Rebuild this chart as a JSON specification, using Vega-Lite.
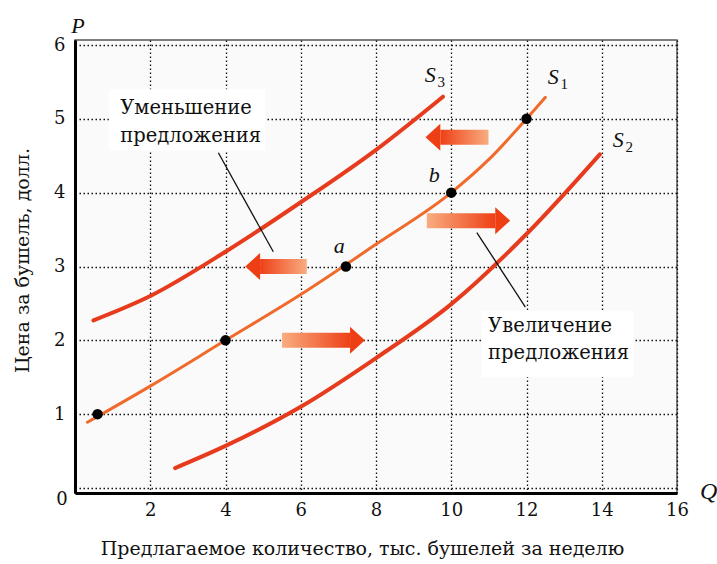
{
  "$schema": "https://vega.github.io/schema/vega-lite/v6.json",
  "width": 602,
  "height": 453,
  "autosize": {"type": "none"},
  "padding": {"left": 75, "top": 40, "right": 40, "bottom": 71},
  "background": "white",
  "config": {
    "font": "DejaVu Serif",
    "view": {"stroke": "#555", "strokeWidth": 1.5, "fill": "#fafafa"},
    "axis": {
      "labelFont": "DejaVu Serif",
      "titleFont": "DejaVu Serif",
      "labelColor": "#111",
      "titleColor": "#111",
      "labelFontSize": 18,
      "titleFontSize": 19,
      "titleFontWeight": "normal",
      "ticks": false,
      "tickSize": 0,
      "grid": true,
      "domainColor": "#000",
      "domainWidth": 3,
      "gridColor": "#111",
      "gridDash": [1.5, 2.5],
      "gridWidth": 1.3,
      "gridOpacity": 1
    }
  },
  "layer": [
    {
      "data": {"values": [
        {"x1": 0.9, "x2": 5.05, "y1": 4.57, "y2": 5.4},
        {"x1": 10.8, "x2": 14.85, "y1": 1.5, "y2": 2.4}
      ]},
      "mark": {"type": "rect", "fill": "white"},
      "encoding": {
        "x": {"field": "x1", "type": "quantitative", "scale": {"domain": [0, 16], "nice": false},
              "axis": {"grid": true, "values": [0, 2, 4, 6, 8, 10, 12, 14, 16], "format": "d", "labelExpr": "datum.value == 0 ? '' : datum.label", "labelPadding": 8, "title": "Предлагаемое количество, тыс. бушелей за неделю", "titleX": 287, "titleY": 55, "titleBaseline": "middle", "labelFlush": false}},
        "x2": {"field": "x2"},
        "y": {"field": "y1", "type": "quantitative", "scale": {"domain": [0, 6], "nice": false},
              "axis": {"grid": true, "values": [0, 1, 2, 3, 4, 5, 6], "format": "d", "labelExpr": "datum.value == 0 ? '' : datum.label", "labelPadding": 10, "title": "Цена за бушель, долл.", "titleX": -53, "titleY": 220, "titleBaseline": "middle", "labelFlush": false}},
        "y2": {"field": "y2"}
      }
    },
    {
      "data": {"values": [
        {"curve": "S3", "q": 0.49, "p": 2.27},
        {"curve": "S3", "q": 2, "p": 2.6},
        {"curve": "S3", "q": 4, "p": 3.2},
        {"curve": "S3", "q": 6, "p": 3.87},
        {"curve": "S3", "q": 8, "p": 4.58},
        {"curve": "S3", "q": 9.78, "p": 5.3},
        {"curve": "S2", "q": 2.66, "p": 0.27},
        {"curve": "S2", "q": 4, "p": 0.57},
        {"curve": "S2", "q": 6, "p": 1.1},
        {"curve": "S2", "q": 8, "p": 1.76},
        {"curve": "S2", "q": 10, "p": 2.49},
        {"curve": "S2", "q": 12, "p": 3.44},
        {"curve": "S2", "q": 13.95, "p": 4.52}
      ]},
      "mark": {"type": "line", "interpolate": "monotone", "color": "#e63b1c", "strokeWidth": 4, "strokeCap": "round"},
      "encoding": {
        "x": {"field": "q", "type": "quantitative"},
        "y": {"field": "p", "type": "quantitative"},
        "detail": {"field": "curve"}
      }
    },
    {
      "data": {"values": [
        {"q": 0.33, "p": 0.89},
        {"q": 2, "p": 1.38},
        {"q": 4, "p": 2.0},
        {"q": 6, "p": 2.62},
        {"q": 8, "p": 3.3},
        {"q": 10, "p": 4.0},
        {"q": 11, "p": 4.45},
        {"q": 12, "p": 5.0},
        {"q": 12.5, "p": 5.29}
      ]},
      "mark": {"type": "line", "interpolate": "monotone", "color": "#f06a2c", "strokeWidth": 3, "strokeCap": "round"},
      "encoding": {
        "x": {"field": "q", "type": "quantitative"},
        "y": {"field": "p", "type": "quantitative"}
      }
    },
    {
      "data": {"values": [
        {"y": 4.75, "tail": 10.99, "base": 9.71},
        {"y": 3.0, "tail": 6.16, "base": 4.92}
      ]},
      "mark": {"type": "bar", "size": 15, "fill": {"gradient": "linear", "x1": 0, "y1": 0, "x2": 1, "y2": 0, "stops": [{"offset": 0, "color": "#ee4016"}, {"offset": 1, "color": "#f8ad80"}]}},
      "encoding": {
        "x": {"field": "base", "type": "quantitative"},
        "x2": {"field": "tail"},
        "y": {"field": "y", "type": "quantitative"}
      }
    },
    {
      "data": {"values": [
        {"y": 4.75, "base": 9.71},
        {"y": 3.0, "base": 4.92}
      ]},
      "mark": {"type": "point", "shape": "M0,-1L0,1L-1.1,0Z", "size": 729, "filled": true, "color": "#ee3e14", "opacity": 1},
      "encoding": {
        "x": {"field": "base", "type": "quantitative"},
        "y": {"field": "y", "type": "quantitative"}
      }
    },
    {
      "data": {"values": [
        {"y": 3.62, "tail": 9.35, "base": 11.17},
        {"y": 2.0, "tail": 5.5, "base": 7.31}
      ]},
      "mark": {"type": "bar", "size": 15, "fill": {"gradient": "linear", "x1": 0, "y1": 0, "x2": 1, "y2": 0, "stops": [{"offset": 0, "color": "#f8ad80"}, {"offset": 1, "color": "#ee4016"}]}},
      "encoding": {
        "x": {"field": "tail", "type": "quantitative"},
        "x2": {"field": "base"},
        "y": {"field": "y", "type": "quantitative"}
      }
    },
    {
      "data": {"values": [
        {"y": 3.62, "base": 11.17},
        {"y": 2.0, "base": 7.31}
      ]},
      "mark": {"type": "point", "shape": "M0,-1L0,1L1.1,0Z", "size": 729, "filled": true, "color": "#ee3e14", "opacity": 1},
      "encoding": {
        "x": {"field": "base", "type": "quantitative"},
        "y": {"field": "y", "type": "quantitative"}
      }
    },
    {
      "data": {"values": [
        {"x1": 3.81, "y1": 4.54, "x2": 5.27, "y2": 3.2},
        {"x1": 10.68, "y1": 3.46, "x2": 11.97, "y2": 2.45}
      ]},
      "mark": {"type": "rule", "color": "#111", "strokeWidth": 1.3},
      "encoding": {
        "x": {"field": "x1", "type": "quantitative"},
        "y": {"field": "y1", "type": "quantitative"},
        "x2": {"field": "x2"},
        "y2": {"field": "y2"}
      }
    },
    {
      "data": {"values": [
        {"q": 0.6, "p": 1},
        {"q": 4, "p": 2},
        {"q": 7.2, "p": 3},
        {"q": 10, "p": 4},
        {"q": 12, "p": 5}
      ]},
      "mark": {"type": "circle", "size": 110, "color": "#000", "opacity": 1},
      "encoding": {
        "x": {"field": "q", "type": "quantitative"},
        "y": {"field": "p", "type": "quantitative"}
      }
    },
    {
      "data": {"values": [
        {"tx": 1.2, "ty": 5.14, "label": "Уменьшение"},
        {"tx": 1.2, "ty": 4.77, "label": "предложения"},
        {"tx": 10.98, "ty": 2.19, "label": "Увеличение"},
        {"tx": 10.98, "ty": 1.83, "label": "предложения"}
      ]},
      "mark": {"type": "text", "align": "left", "baseline": "middle", "fontSize": 19.5, "font": "DejaVu Serif", "color": "#111"},
      "encoding": {
        "x": {"field": "tx", "type": "quantitative"},
        "y": {"field": "ty", "type": "quantitative"},
        "text": {"field": "label"}
      }
    },
    {
      "data": {"values": [
        {"tx": 7.02, "ty": 3.28, "label": "a"},
        {"tx": 9.55, "ty": 4.24, "label": "b"},
        {"tx": 9.44, "ty": 5.6, "label": "S"},
        {"tx": 12.71, "ty": 5.57, "label": "S"},
        {"tx": 14.44, "ty": 4.72, "label": "S"}
      ]},
      "mark": {"type": "text", "align": "center", "baseline": "middle", "fontSize": 22, "fontStyle": "italic", "font": "Liberation Serif", "color": "#111"},
      "encoding": {
        "x": {"field": "tx", "type": "quantitative"},
        "y": {"field": "ty", "type": "quantitative"},
        "text": {"field": "label"}
      }
    },
    {
      "data": {"values": [
        {"tx": 9.44, "ty": 5.6, "label": "3"},
        {"tx": 12.71, "ty": 5.57, "label": "1"},
        {"tx": 14.44, "ty": 4.72, "label": "2"}
      ]},
      "mark": {"type": "text", "align": "center", "baseline": "middle", "fontSize": 15, "dx": 11, "dy": 7, "font": "Liberation Serif", "color": "#111"},
      "encoding": {
        "x": {"field": "tx", "type": "quantitative"},
        "y": {"field": "ty", "type": "quantitative"},
        "text": {"field": "label"}
      }
    },
    {
      "data": {"values": [{"tx": 0, "ty": 6, "label": "P"}]},
      "mark": {"type": "text", "align": "center", "baseline": "middle", "fontSize": 22, "fontStyle": "italic", "dx": 3, "dy": -19, "font": "Liberation Serif", "color": "#111"},
      "encoding": {
        "x": {"field": "tx", "type": "quantitative"},
        "y": {"field": "ty", "type": "quantitative"},
        "text": {"field": "label"}
      }
    },
    {
      "data": {"values": [{"tx": 16, "ty": 0, "label": "Q"}]},
      "mark": {"type": "text", "align": "left", "baseline": "middle", "fontSize": 24, "fontStyle": "italic", "dx": 23, "dy": 4, "font": "Liberation Serif", "color": "#111"},
      "encoding": {
        "x": {"field": "tx", "type": "quantitative"},
        "y": {"field": "ty", "type": "quantitative"},
        "text": {"field": "label"}
      }
    },
    {
      "data": {"values": [{"tx": 0, "ty": 0, "label": "0"}]},
      "mark": {"type": "text", "align": "center", "baseline": "middle", "fontSize": 18, "dx": -13, "dy": 12, "font": "DejaVu Serif", "color": "#111"},
      "encoding": {
        "x": {"field": "tx", "type": "quantitative"},
        "y": {"field": "ty", "type": "quantitative"},
        "text": {"field": "label"}
      }
    }
  ]
}
